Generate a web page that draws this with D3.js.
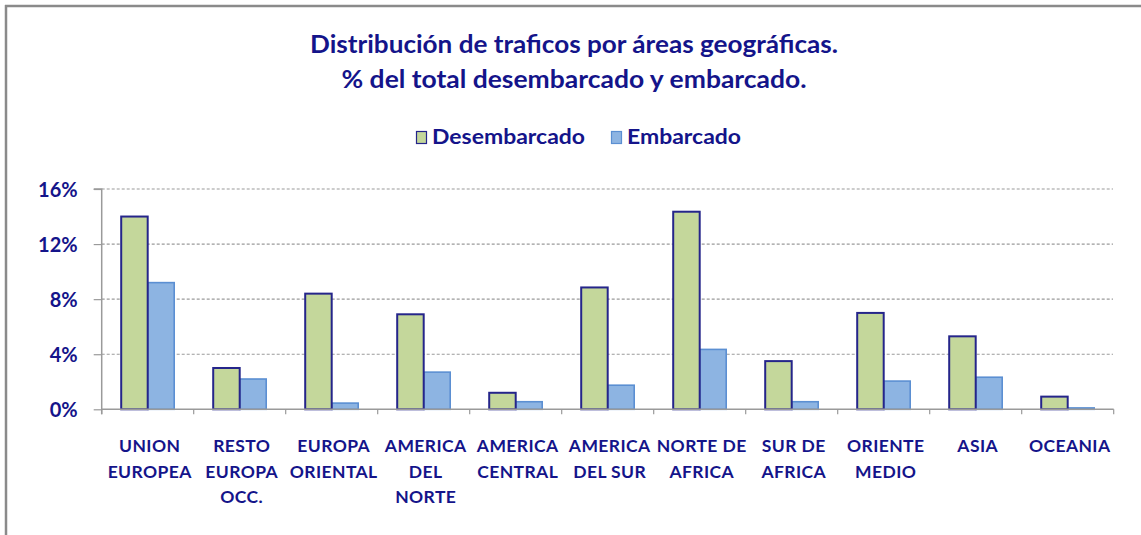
<!DOCTYPE html>
<html><head><meta charset="utf-8">
<script src="https://cdn.jsdelivr.net/npm/d3@7"></script>
<style>body{margin:0;background:#fff;} svg{display:block;}</style>
</head><body>
<svg id="chart" width="1141" height="535"></svg>
<script>
const categories = [["UNION","EUROPEA"],["RESTO","EUROPA","OCC."],["EUROPA","ORIENTAL"],["AMERICA","DEL","NORTE"],["AMERICA","CENTRAL"],["AMERICA","DEL SUR"],["NORTE DE","AFRICA"],["SUR DE","AFRICA"],["ORIENTE","MEDIO"],["ASIA"],["OCEANIA"]];
const categoryKeys = categories.map(c => c.join(" "));
const seriesNames = ["Desembarcado","Embarcado"];
const desembarcado = [14.0, 3.0, 8.4, 6.9, 1.2, 8.85, 14.35, 3.5, 7.0, 5.3, 0.92];
const embarcado = [9.2, 2.2, 0.45, 2.7, 0.55, 1.75, 4.35, 0.55, 2.05, 2.33, 0.1];
const yTicks = [0, 4, 8, 12, 16];
const titleLines = ["Distribución de traficos por áreas geográficas.", "% del total desembarcado y embarcado."];

const navy = "#14148a";
const colors = {Desembarcado: {fill: "#c4d79b", stroke: "#25258a"}, Embarcado: {fill: "#8db4e2", stroke: "#5b8fd2"}};
const font = "Lato, 'Open Sans', sans-serif";

const svg = d3.select("#chart");

// frame
svg.append("line").attr("x1", 5).attr("x2", 1141).attr("y1", 6).attr("y2", 6).attr("stroke", "#8a8a8a").attr("stroke-width", 2.5);
svg.append("line").attr("x1", 6).attr("x2", 6).attr("y1", 5).attr("y2", 535).attr("stroke", "#8a8a8a").attr("stroke-width", 2.5);

// title
const titleWidths = [528, 465];
svg.selectAll("text.title").data(titleLines).join("text")
  .attr("class", "title")
  .attr("x", 574).attr("y", (d, i) => 53 + i * 35)
  .attr("text-anchor", "middle")
  .attr("textLength", (d, i) => titleWidths[i]).attr("lengthAdjust", "spacingAndGlyphs")
  .attr("font-family", font).attr("font-weight", "bold").attr("font-size", 24)
  .attr("fill", navy).text(d => d);

// legend
const legendPos = [{sx: 416, tx: 432, w: 153}, {sx: 611, tx: 627, w: 114}];
const lg = svg.selectAll("g.legend").data(seriesNames).join("g").attr("class", "legend");
lg.append("rect").attr("x", (d, i) => legendPos[i].sx + 0.5).attr("y", 131.5).attr("width", 10).attr("height", 12)
  .attr("fill", d => colors[d].fill).attr("stroke", d => colors[d].stroke).attr("stroke-width", 1.2);
lg.append("text").attr("x", (d, i) => legendPos[i].tx).attr("y", 144)
  .attr("textLength", (d, i) => legendPos[i].w).attr("lengthAdjust", "spacingAndGlyphs")
  .attr("font-family", font).attr("font-weight", "bold").attr("font-size", 20)
  .attr("fill", navy).text(d => d);

// scales
const pLeft = 101.7, pRight = 1113.7, pTop = 189, pBottom = 409.3;
const x0 = d3.scaleBand().domain(categoryKeys).range([pLeft, pRight]).padding(0);
const bw = x0.bandwidth();
const x1 = d3.scaleBand().domain(seriesNames).range([bw * 0.212, bw * 0.788]).padding(0);
const y = d3.scaleLinear().domain([0, 16]).range([pBottom, pTop]);

// gridlines
svg.selectAll("line.grid").data(yTicks.filter(t => t > 0)).join("line")
  .attr("class", "grid")
  .attr("x1", pLeft).attr("x2", pRight - 0.7)
  .attr("y1", d => y(d)).attr("y2", d => y(d))
  .attr("stroke", "#9a9a9a").attr("stroke-width", 1.2).attr("stroke-dasharray", "3,2");

// y axis
const yAxis = d3.axisLeft(y).tickValues(yTicks).tickFormat(d => d + "%").tickSize(8).tickPadding(16);
const yg = svg.append("g").attr("transform", `translate(${pLeft},0)`).call(yAxis);
yg.select(".domain").attr("stroke", "#9a9a9a").attr("stroke-width", 1.5).attr("d", `M-8,${pTop}H0V${pBottom + 5}`);
yg.selectAll(".tick line").attr("stroke", "#9a9a9a").attr("stroke-width", 1.2);
yg.selectAll(".tick text").attr("font-family", font).attr("font-weight", "bold").attr("font-size", 20).attr("fill", navy).attr("dy", "0.36em");

// bars
const data = categoryKeys.map((k, i) => ({key: k, values: [{s: "Desembarcado", v: desembarcado[i]}, {s: "Embarcado", v: embarcado[i]}]}));
const groups = svg.selectAll("g.cat").data(data).join("g").attr("class", "cat").attr("transform", d => `translate(${x0(d.key)},0)`);
groups.selectAll("rect").data(d => d.values.slice().reverse()).join("rect")
  .attr("x", d => x1(d.s)).attr("width", x1.bandwidth())
  .attr("y", d => y(d.v)).attr("height", d => pBottom - y(d.v))
  .attr("fill", d => colors[d.s].fill).attr("stroke", d => colors[d.s].stroke)
  .attr("stroke-width", d => d.s === "Desembarcado" ? 2 : 1.6);

// x axis baseline and ticks
const boundaries = categoryKeys.map(k => x0(k)).concat([pRight]);
svg.append("line").attr("x1", pLeft).attr("x2", pRight).attr("y1", pBottom).attr("y2", pBottom).attr("stroke", "#9a9a9a").attr("stroke-width", 1.5);
svg.selectAll("line.xtick").data(boundaries).join("line").attr("class", "xtick")
  .attr("x1", d => d).attr("x2", d => d).attr("y1", pBottom).attr("y2", pBottom + 5)
  .attr("stroke", "#9a9a9a").attr("stroke-width", 1.2);

// category labels
const labels = svg.selectAll("text.cat").data(categories).join("text").attr("class", "cat")
  .attr("x", (d, i) => x0(categoryKeys[i]) + bw / 2 + 2)
  .attr("y", 452)
  .attr("text-anchor", "middle")
  .attr("font-family", font).attr("font-weight", "bold").attr("font-size", 17.5)
  .attr("letter-spacing", 0.4).attr("fill", navy);
labels.selectAll("tspan").data(d => d).join("tspan")
  .attr("x", function() { return d3.select(this.parentNode).attr("x"); })
  .attr("dy", (d, i) => i === 0 ? 0 : 25.5)
  .text(d => d);
</script>
</body></html>
